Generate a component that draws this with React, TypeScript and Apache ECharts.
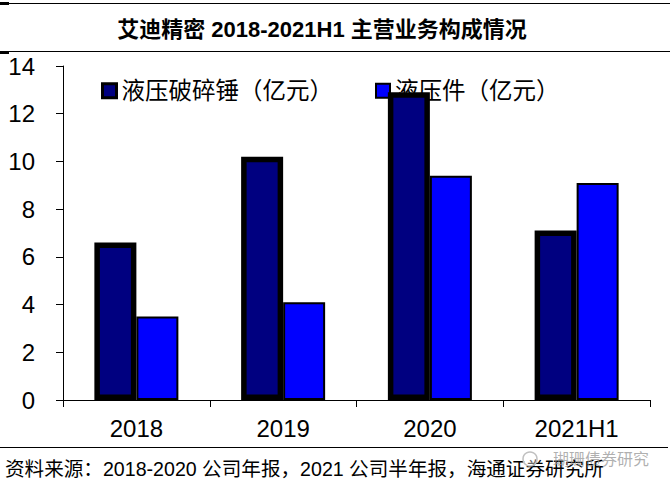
import React, { useEffect, useRef } from "react";
import * as echarts from "echarts";

const categories = ["2018", "2019", "2020", "2021H1"];
const hammerValues = [6.6, 10.2, 12.9, 7.1];
const partsValues = [3.5, 4.1, 9.4, 9.1];
const seriesNames = ["液压破碎锤（亿元）", "液压件（亿元）"];
const titleText = "艾迪精密 2018-2021H1 主营业务构成情况";
const sourceText = "资料来源：2018-2020 公司年报，2021 公司半年报，海通证券研究所";
const watermarkText = "瑚珊债券研究";

export default function App() {
  const ref = useRef<HTMLDivElement>(null);
  useEffect(() => {
    if (!ref.current) return;
    const chart = echarts.init(ref.current, null, { renderer: "svg" });
    const latin = "'Liberation Sans', Arial, sans-serif";
    const cjk = "'Liberation Sans', 'Noto Sans CJK SC', sans-serif";
    chart.setOption({
      animation: false,
      backgroundColor: "#ffffff",
      grid: { left: 63, right: 20, top: 66, bottom: 89, containLabel: false },
      legend: {
        z: 1,
        left: 96,
        top: 74,
        itemWidth: 14,
        itemHeight: 14,
        itemGap: 42,
        icon: "rect",
        textStyle: { fontSize: 23.5, color: "#000", fontFamily: cjk, padding: [0, 0, 0, 0] },
        data: [
          { name: seriesNames[0], itemStyle: { color: "#000080", borderColor: "#000", borderWidth: 3 } },
          { name: seriesNames[1], itemStyle: { color: "#0000FF", borderColor: "#000", borderWidth: 2 } },
        ],
      },
      xAxis: {
        type: "category",
        data: categories,
        axisLine: { lineStyle: { color: "#000", width: 1 } },
        axisTick: { show: true, length: 7, alignWithLabel: false, lineStyle: { color: "#000" } },
        axisLabel: { fontSize: 24, color: "#000", fontFamily: latin, margin: 16 },
      },
      yAxis: {
        type: "value",
        min: 0,
        max: 14,
        interval: 2,
        splitLine: { show: false },
        axisLine: { show: true, lineStyle: { color: "#000", width: 1 } },
        axisTick: { show: true, length: 7, lineStyle: { color: "#000" } },
        axisLabel: { fontSize: 24, color: "#000", fontFamily: latin, margin: 28 },
      },
      series: [
        {
          name: seriesNames[0],
          type: "bar",
          z: 3,
          data: hammerValues,
          barWidth: 42,
          barGap: "0%",
          itemStyle: { color: "#000080", borderColor: "#000", borderWidth: 5.5 },
        },
        {
          name: seriesNames[1],
          type: "bar",
          z: 2,
          data: partsValues,
          barWidth: 42,
          barGap: "0%",
          itemStyle: { color: "#0000FF", borderColor: "#000", borderWidth: 2 },
        },
      ],
      graphic: [
        { type: "line", shape: { x1: 0, y1: 3.5, x2: 670, y2: 3.5 }, style: { stroke: "#000", lineWidth: 1 } },
        { type: "rect", shape: { x: 0, y: 2, width: 9, height: 3 }, style: { fill: "#000" } },
        { type: "line", shape: { x1: 0, y1: 51.5, x2: 670, y2: 51.5 }, style: { stroke: "#000", lineWidth: 1 } },
        { type: "rect", shape: { x: 0, y: 51, width: 9, height: 3 }, style: { fill: "#000" } },
        {
          type: "text",
          x: 322,
          y: 29,
          style: {
            text: titleText,
            fontSize: 22,
            fontWeight: "bold",
            fontFamily: cjk,
            fill: "#000",
            align: "center",
            verticalAlign: "middle",
          },
        },
        { type: "line", shape: { x1: 0, y1: 447.5, x2: 668, y2: 447.5 }, style: { stroke: "#000", lineWidth: 1 } },
        {
          type: "text",
          x: 5,
          y: 469,
          style: {
            text: sourceText,
            fontSize: 19.6,
            fontFamily: cjk,
            fill: "#000",
            align: "left",
            verticalAlign: "middle",
          },
        },
        {
          type: "circle",
          shape: { cx: 530, cy: 459, r: 7 },
          style: { fill: "rgba(255,255,255,0.4)", stroke: "#c0c0c0", lineWidth: 1.5 },
        },
        {
          type: "text",
          x: 553,
          y: 458,
          style: {
            text: watermarkText,
            fontSize: 16,
            fontFamily: "'Noto Sans CJK SC', sans-serif",
            fill: "rgba(150,150,150,0.75)",
            align: "left",
            verticalAlign: "middle",
          },
        },
      ],
    });
    return () => chart.dispose();
  }, []);
  return (
    <div
      ref={ref}
      style={{ position: "absolute", left: 0, top: 0, width: 670, height: 489 }}
    />
  );
}
